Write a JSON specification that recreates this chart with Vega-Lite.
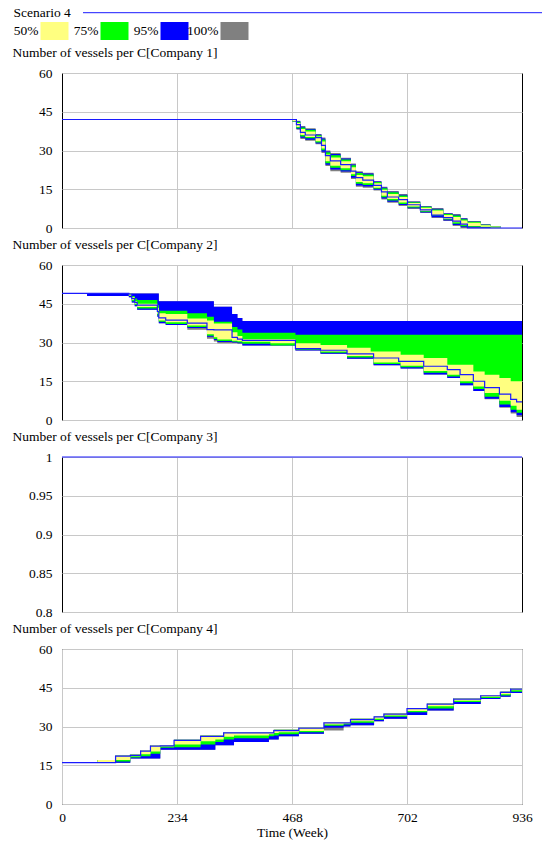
{
 "$schema": "https://vega.github.io/schema/vega-lite/v6.json",
 "padding": {"left": 12, "top": 6, "right": 0, "bottom": 0},
 "autosize": {"type": "pad"},
 "bounds": "flush",
 "spacing": 37,
 "config": {
  "font": "Liberation Serif",
  "view": {"stroke": "#000000", "strokeWidth": 1},
  "axis": {"labelFont": "Liberation Serif", "labelFontSize": 13.5, "labelColor": "#000000", "gridColor": "#c8c8c8", "gridWidth": 1, "domain": false, "ticks": false, "tickSize": 0, "titleFont": "Liberation Serif", "titleFontSize": 13.5, "titleFontWeight": "normal", "titleColor": "#000000"},
  "title": {"font": "Liberation Serif", "fontSize": 13.5, "fontWeight": "normal", "color": "#000000", "anchor": "start", "frame": "group", "dx": -49.5, "offset": 7, "baseline": "alphabetic"},
  "legend": {"labelFont": "Liberation Serif", "labelFontSize": 13.5, "labelColor": "#000000", "titleFont": "Liberation Serif", "titleFontSize": 13.5, "titleFontWeight": "normal", "titleColor": "#000000", "padding": 0}
 },
 "resolve": {"scale": {"x": "independent", "y": "independent", "fill": "shared", "stroke": "shared"}, "legend": {"stroke": "shared"}},
 "datasets": {
  "p1": [
   {"t":0,"lo100":42,"lo95":42,"lo75":42,"lo50":42,"hi50":42,"hi75":42,"hi95":42,"hi100":42,"base":42},
   {"t":469,"lo100":41,"lo95":41.1,"lo75":41.2,"lo50":41.3,"hi50":41.8,"hi75":41.9,"hi95":42,"hi100":42,"base":42},
   {"t":477,"lo100":38,"lo95":38.3,"lo75":38.6,"lo50":39.1,"hi50":40.6,"hi75":41.1,"hi95":41.3,"hi100":41.5,"base":40},
   {"t":485,"lo100":34.5,"lo95":34.9,"lo75":35.4,"lo50":36,"hi50":38.3,"hi75":38.9,"hi95":39.2,"hi100":39.5,"base":37},
   {"t":495,"lo100":33.8,"lo95":34.2,"lo75":34.7,"lo50":35.2,"hi50":37.4,"hi75":38,"hi95":38.3,"hi100":38.6,"base":36},
   {"t":516,"lo100":32.4,"lo95":32.7,"lo75":33.1,"lo50":33.6,"hi50":35.4,"hi75":35.9,"hi95":36.2,"hi100":36.4,"base":35},
   {"t":528,"lo100":29,"lo95":29.5,"lo75":30.1,"lo50":30.8,"hi50":33.5,"hi75":34.3,"hi95":34.6,"hi100":35,"base":32},
   {"t":536,"lo100":24,"lo95":24.5,"lo75":25.1,"lo50":25.8,"hi50":28.5,"hi75":29.3,"hi95":29.6,"hi100":30,"base":28},
   {"t":546,"lo100":22,"lo95":22.6,"lo75":23.3,"lo50":24.1,"hi50":27.3,"hi75":28.2,"hi95":28.6,"hi100":29,"base":26},
   {"t":567,"lo100":21.4,"lo95":21.9,"lo75":22.4,"lo50":23.1,"hi50":25.8,"hi75":26.5,"hi95":26.9,"hi100":27.2,"base":24.5},
   {"t":588,"lo100":19,"lo95":19.5,"lo75":20.1,"lo50":20.8,"hi50":23.5,"hi75":24.3,"hi95":24.6,"hi100":25,"base":22},
   {"t":598,"lo100":16,"lo95":16.5,"lo75":17.1,"lo50":17.8,"hi50":20.5,"hi75":21.3,"hi95":21.6,"hi100":22,"base":19.5},
   {"t":612,"lo100":15.6,"lo95":16.1,"lo75":16.6,"lo50":17.3,"hi50":20,"hi75":20.7,"hi95":21.1,"hi100":21.4,"base":18.5},
   {"t":634,"lo100":14.5,"lo95":14.8,"lo75":15.2,"lo50":15.6,"hi50":17.3,"hi75":17.8,"hi95":18,"hi100":18.2,"base":16.5},
   {"t":650,"lo100":11,"lo95":11.4,"lo75":11.9,"lo50":12.5,"hi50":14.8,"hi75":15.4,"hi95":15.7,"hi100":16,"base":14},
   {"t":662,"lo100":9.8,"lo95":10.2,"lo75":10.6,"lo50":11.2,"hi50":13.2,"hi75":13.8,"hi95":14,"hi100":14.3,"base":12},
   {"t":685,"lo100":8.5,"lo95":8.9,"lo75":9.3,"lo50":9.9,"hi50":12,"hi75":12.6,"hi95":12.9,"hi100":13.2,"base":11},
   {"t":703,"lo100":7.4,"lo95":7.6,"lo75":7.9,"lo50":8.3,"hi50":9.7,"hi75":10,"hi95":10.2,"hi100":10.4,"base":9},
   {"t":729,"lo100":5.8,"lo95":6,"lo75":6.3,"lo50":6.6,"hi50":7.8,"hi75":8.2,"hi95":8.3,"hi100":8.5,"base":7},
   {"t":752,"lo100":3.9,"lo95":4.2,"lo75":4.6,"lo50":5,"hi50":6.8,"hi75":7.2,"hi95":7.5,"hi100":7.7,"base":5},
   {"t":776,"lo100":2.7,"lo95":2.9,"lo75":3.3,"lo50":3.6,"hi50":5,"hi75":5.4,"hi95":5.6,"hi100":5.8,"base":4},
   {"t":795,"lo100":0.8,"lo95":1.2,"lo75":1.6,"lo50":2.2,"hi50":4.3,"hi75":4.8,"hi95":5.1,"hi100":5.4,"base":2.7},
   {"t":811,"lo100":0,"lo95":0.3,"lo75":0.7,"lo50":1.2,"hi50":2.9,"hi75":3.4,"hi95":3.7,"hi100":3.9,"base":1.5},
   {"t":825,"lo100":0,"lo95":0.2,"lo75":0.5,"lo50":0.8,"hi50":2,"hi75":2.4,"hi95":2.5,"hi100":2.7,"base":0},
   {"t":852,"lo100":0,"lo95":0.1,"lo75":0.3,"lo50":0.5,"hi50":1.1,"hi75":1.3,"hi95":1.4,"hi100":1.5,"base":0},
   {"t":872,"lo100":0,"lo95":0,"lo75":0.1,"lo50":0.2,"hi50":0.6,"hi75":0.7,"hi95":0.8,"hi100":0.8,"base":0},
   {"t":892,"lo100":0,"lo95":0,"lo75":0,"lo50":0,"hi50":0,"hi75":0,"hi95":0,"hi100":0,"base":0},
   {"t":936,"lo100":0,"lo95":0,"lo75":0,"lo50":0,"hi50":0,"hi75":0,"hi95":0,"hi100":0,"base":0}
  ],
  "p2": [
   {"t":0,"lo100":49,"lo95":49,"lo75":49,"lo50":49,"hi50":49,"hi75":49,"hi95":49,"hi100":49,"base":49},
   {"t":51,"lo100":48,"lo95":48,"lo75":49,"lo50":49,"hi50":49,"hi75":49,"hi95":49,"hi100":49,"base":49},
   {"t":136,"lo100":47.5,"lo95":47.5,"lo75":48,"lo50":48.2,"hi50":49,"hi75":49,"hi95":49,"hi100":49,"base":48.7},
   {"t":142,"lo100":45.5,"lo95":45.5,"lo75":46,"lo50":46.5,"hi50":47.5,"hi75":48,"hi95":49,"hi100":49,"base":47},
   {"t":148,"lo100":44,"lo95":44,"lo75":44.5,"lo50":45,"hi50":46,"hi75":47,"hi95":49,"hi100":49,"base":45.5},
   {"t":153,"lo100":42.7,"lo95":42.7,"lo75":43.2,"lo50":43.7,"hi50":45,"hi75":46.5,"hi95":49,"hi100":49,"base":44.5},
   {"t":194,"lo100":40,"lo95":40,"lo75":40.5,"lo50":41,"hi50":43.5,"hi75":44.5,"hi95":49,"hi100":49,"base":42},
   {"t":197,"lo100":37.5,"lo95":37.5,"lo75":38,"lo50":38.5,"hi50":41.3,"hi75":42.3,"hi95":46,"hi100":46,"base":39.5},
   {"t":211,"lo100":36.8,"lo95":36.8,"lo75":37.2,"lo50":37.8,"hi50":41,"hi75":42.3,"hi95":46,"hi100":46,"base":38.7},
   {"t":255,"lo100":34.9,"lo95":35.6,"lo75":36,"lo50":36.6,"hi50":39.3,"hi75":41.3,"hi95":46,"hi100":46,"base":37.5},
   {"t":295,"lo100":31.5,"lo95":32.2,"lo75":32.6,"lo50":33.2,"hi50":38.5,"hi75":40,"hi95":46,"hi100":46,"base":35},
   {"t":309,"lo100":30.4,"lo95":31,"lo75":31.4,"lo50":32,"hi50":37.4,"hi75":38,"hi95":43.8,"hi100":43.8,"base":34.9},
   {"t":316,"lo100":29.7,"lo95":30.2,"lo75":30.6,"lo50":31.2,"hi50":37.4,"hi75":38,"hi95":43.8,"hi100":43.8,"base":34.9},
   {"t":346,"lo100":29.7,"lo95":30,"lo75":30.3,"lo50":30.7,"hi50":34,"hi75":36,"hi95":41,"hi100":41,"base":32},
   {"t":357,"lo100":29.5,"lo95":29.7,"lo75":30,"lo50":30.5,"hi50":32.5,"hi75":35,"hi95":39.5,"hi100":39.5,"base":31.3},
   {"t":367,"lo100":28.8,"lo95":28.8,"lo75":29.5,"lo50":30.3,"hi50":31.3,"hi75":33.8,"hi95":38.3,"hi100":38.3,"base":30.8},
   {"t":424,"lo100":28.8,"lo95":28.8,"lo75":28.8,"lo50":29.7,"hi50":31.3,"hi75":33.8,"hi95":38.3,"hi100":38.3,"base":30.8},
   {"t":475,"lo100":26.9,"lo95":26.9,"lo75":27.2,"lo50":27.8,"hi50":29.7,"hi75":33,"hi95":38.3,"hi100":38.3,"base":27.6},
   {"t":526,"lo100":25.6,"lo95":25.6,"lo75":26,"lo50":26.5,"hi50":29,"hi75":33,"hi95":38.3,"hi100":38.3,"base":27},
   {"t":580,"lo100":23.7,"lo95":23.7,"lo75":24.2,"lo50":24.8,"hi50":28,"hi75":33,"hi95":38.3,"hi100":38.3,"base":25.6},
   {"t":628,"lo100":23.7,"lo95":23.7,"lo75":24.2,"lo50":24.8,"hi50":26.5,"hi75":33,"hi95":38.3,"hi100":38.3,"base":25.6},
   {"t":634,"lo100":21.2,"lo95":21.2,"lo75":21.7,"lo50":22.3,"hi50":26.5,"hi75":33,"hi95":38.3,"hi100":38.3,"base":24},
   {"t":685,"lo100":21.2,"lo95":21.2,"lo75":21.7,"lo50":22.3,"hi50":26.5,"hi75":33,"hi95":38.3,"hi100":38.3,"base":22.7},
   {"t":689,"lo100":19.9,"lo95":19.9,"lo75":20.4,"lo50":21,"hi50":25.3,"hi75":33,"hi95":38.3,"hi100":38.3,"base":22.7},
   {"t":736,"lo100":17.6,"lo95":17.6,"lo75":18.3,"lo50":19,"hi50":24,"hi75":33,"hi95":38.3,"hi100":38.3,"base":20.8},
   {"t":784,"lo100":16.3,"lo95":16.3,"lo75":16.8,"lo50":17.5,"hi50":21.4,"hi75":33,"hi95":38.3,"hi100":38.3,"base":19.5},
   {"t":810,"lo100":13.5,"lo95":13.5,"lo75":14.2,"lo50":15,"hi50":21.4,"hi75":33,"hi95":38.3,"hi100":38.3,"base":17.6},
   {"t":837,"lo100":11.2,"lo95":11.2,"lo75":12,"lo50":13,"hi50":18.8,"hi75":33,"hi95":38.3,"hi100":38.3,"base":15},
   {"t":860,"lo100":8,"lo95":8.2,"lo75":9,"lo50":10.5,"hi50":17.5,"hi75":33,"hi95":38.3,"hi100":38.3,"base":12.5},
   {"t":890,"lo100":4.7,"lo95":5,"lo75":6,"lo50":7.5,"hi50":16.3,"hi75":33,"hi95":38.3,"hi100":38.3,"base":10},
   {"t":913,"lo100":2.5,"lo95":3,"lo75":4,"lo50":5.5,"hi50":15,"hi75":33,"hi95":38.3,"hi100":38.3,"base":8},
   {"t":925,"lo100":1.2,"lo95":1.8,"lo75":2.8,"lo50":4,"hi50":15,"hi75":33,"hi95":38.3,"hi100":38.3,"base":7},
   {"t":936,"lo100":1.2,"lo95":1.8,"lo75":2.8,"lo50":4,"hi50":15,"hi75":33,"hi95":38.3,"hi100":38.3,"base":7}
  ],
  "p3": [
   {"t":0,"base":1},
   {"t":936,"base":1}
  ],
  "p4": [
   {"t":0,"lo100":16,"lo95":16,"lo75":16,"lo50":16,"hi50":16,"hi75":16,"hi95":16,"hi100":16,"base":16},
   {"t":72,"lo100":16,"lo95":16,"lo75":16,"lo50":16,"hi50":17,"hi75":17,"hi95":17,"hi100":17,"base":16},
   {"t":109,"lo100":16,"lo95":16,"lo75":16.5,"lo50":17,"hi50":18.8,"hi75":18.8,"hi95":18.8,"hi100":18.8,"base":18.5},
   {"t":139,"lo100":17.6,"lo95":17.6,"lo75":18,"lo50":18.5,"hi50":19.2,"hi75":19.2,"hi95":19.2,"hi100":19.2,"base":18.8},
   {"t":160,"lo100":17.6,"lo95":17.6,"lo75":18.5,"lo50":19.3,"hi50":20.8,"hi75":20.8,"hi95":20.8,"hi100":20.8,"base":20.5},
   {"t":180,"lo100":17.6,"lo95":17.6,"lo75":19.5,"lo50":20.3,"hi50":22.7,"hi75":22.7,"hi95":22.7,"hi100":22.7,"base":22.4},
   {"t":200,"lo100":21,"lo95":21,"lo75":21.8,"lo50":22.3,"hi50":22.7,"hi75":22.7,"hi95":22.7,"hi100":22.7,"base":22.5},
   {"t":228,"lo100":21,"lo95":21,"lo75":22,"lo50":23,"hi50":24.9,"hi75":24.9,"hi95":24.9,"hi100":24.9,"base":24.6},
   {"t":282,"lo100":21,"lo95":21,"lo75":23,"lo50":24.3,"hi50":26.5,"hi75":26.5,"hi95":26.5,"hi100":26.5,"base":26.2},
   {"t":312,"lo100":22.7,"lo95":22.7,"lo75":24,"lo50":25,"hi50":26.5,"hi75":26.5,"hi95":26.5,"hi100":26.5,"base":26.2},
   {"t":329,"lo100":22.7,"lo95":22.7,"lo75":25,"lo50":26,"hi50":27.8,"hi75":27.8,"hi95":27.8,"hi100":27.8,"base":27.5},
   {"t":350,"lo100":24,"lo95":24,"lo75":25.5,"lo50":26.5,"hi50":27.8,"hi75":27.8,"hi95":27.8,"hi100":27.8,"base":27.5},
   {"t":421,"lo100":25,"lo95":25,"lo75":26.2,"lo50":27,"hi50":27.8,"hi75":27.8,"hi95":27.8,"hi100":27.8,"base":27.5},
   {"t":431,"lo100":25,"lo95":25,"lo75":26.5,"lo50":27.5,"hi50":28.7,"hi75":28.7,"hi95":28.7,"hi100":28.7,"base":28.4},
   {"t":441,"lo100":26.2,"lo95":26.2,"lo75":27,"lo50":27.8,"hi50":28.7,"hi75":28.7,"hi95":28.7,"hi100":28.7,"base":28.4},
   {"t":482,"lo100":27.2,"lo95":27.2,"lo75":27.8,"lo50":28.3,"hi50":29.7,"hi75":29.7,"hi95":29.7,"hi100":29.7,"base":29.4},
   {"t":533,"lo100":28.5,"lo95":29.5,"lo75":30.3,"lo50":30.8,"hi50":31.7,"hi75":31.7,"hi95":31.7,"hi100":31.7,"base":31.4},
   {"t":573,"lo100":30,"lo95":30,"lo75":30.8,"lo50":31.2,"hi50":31.7,"hi75":31.7,"hi95":31.7,"hi100":31.7,"base":31.4},
   {"t":587,"lo100":30.5,"lo95":30.5,"lo75":31.5,"lo50":32,"hi50":33,"hi75":33,"hi95":33,"hi100":33,"base":32.7},
   {"t":635,"lo100":32,"lo95":32,"lo75":32.5,"lo50":33,"hi50":34,"hi75":34,"hi95":34,"hi100":34,"base":33.7},
   {"t":655,"lo100":33,"lo95":33,"lo75":33.8,"lo50":34.3,"hi50":35.1,"hi75":35.1,"hi95":35.1,"hi100":35.1,"base":34.8},
   {"t":702,"lo100":34.5,"lo95":34.5,"lo75":35.5,"lo50":36,"hi50":37.2,"hi75":37.2,"hi95":37.2,"hi100":37.2,"base":36.9},
   {"t":743,"lo100":36.2,"lo95":36.2,"lo75":37,"lo50":37.8,"hi50":39,"hi75":39,"hi95":39,"hi100":39,"base":38.7},
   {"t":797,"lo100":38.7,"lo95":38.7,"lo75":39.5,"lo50":40,"hi50":40.9,"hi75":40.9,"hi95":40.9,"hi100":40.9,"base":40.6},
   {"t":852,"lo100":40.6,"lo95":40.6,"lo75":41,"lo50":41.5,"hi50":42.2,"hi75":42.2,"hi95":42.2,"hi100":42.2,"base":41.9},
   {"t":892,"lo100":41.5,"lo95":41.5,"lo75":42,"lo50":42.5,"hi50":43.5,"hi75":43.5,"hi95":43.5,"hi100":43.5,"base":43.2},
   {"t":913,"lo100":43,"lo95":43,"lo75":43.5,"lo50":44,"hi50":44.8,"hi75":44.8,"hi95":44.8,"hi100":44.8,"base":44.5},
   {"t":936,"lo100":43,"lo95":43,"lo75":43.5,"lo50":44,"hi50":44.8,"hi75":44.8,"hi95":44.8,"hi100":44.8,"base":44.5}
  ],
  "legendItems": [
   {"band": "50%"},
   {"band": "75%"},
   {"band": "95%"},
   {"band": "100%"}
  ]
 },
 "vconcat": [
  {
   "width": 240, "height": 18,
   "view": {"stroke": null},
   "data": {"name": "legendItems"},
   "encoding": {
    "x": {"field": "band", "type": "nominal", "sort": ["50%", "75%", "95%", "100%"], "scale": {"range": [-51.5, 188.5], "paddingInner": 0, "paddingOuter": 0}, "axis": null},
    "y": {"datum": "legend", "type": "nominal", "scale": {"range": [4, 22], "paddingInner": 0, "paddingOuter": 0}, "axis": null}
   },
   "layer": [
    {"mark": {"type": "rect", "width": 28, "xOffset": 14},
     "encoding": {"fill": {"field": "band", "type": "nominal", "scale": {"domain": ["50%", "75%", "95%", "100%"], "range": ["#ffff80", "#00ff00", "#0000ff", "#808080"]}, "legend": null}}},
    {"mark": {"type": "text", "align": "right", "dx": -2, "baseline": "middle", "fontSize": 13.5, "font": "Liberation Serif", "color": "#000000"},
     "encoding": {"text": {"field": "band"}}},
    {"mark": {"type": "text", "opacity": 0},
     "encoding": {"text": {"field": "band"},
      "stroke": {"datum": "Scenario 4", "type": "nominal", "scale": {"range": ["#1a1aff"]},
       "legend": {"orient": "none", "legendX": -48.5, "legendY": -11.3, "title": "Scenario 4", "titleOrient": "left", "titlePadding": 11, "symbolType": "stroke", "symbolSize": 212521, "symbolStrokeWidth": 1, "symbolOpacity": 1, "clipHeight": 12, "labelExpr": "''"}}}}
   ]
  },
  {
   "width": 460, "height": 155,
   "title": "Number of vessels per C[Company 1]",
   "data": {"name": "p1"},
   "encoding": {
    "x": {"field": "t", "type": "quantitative", "scale": {"domain": [0, 936], "nice": false}, "axis": {"values": [234, 468, 702], "labels": false, "title": null}}
   },
   "layer": [
    {"mark": {"type": "area", "interpolate": "step-after", "opacity": 1},
     "encoding": {"y": {"field": "lo100", "type": "quantitative", "scale": {"domain": [0, 60], "nice": false}, "axis": {"values": [0, 15, 30, 45, 60], "title": null, "labelPadding": 10, "format": "d"}}, "y2": {"field": "hi100"}, "fill": {"datum": "100%", "type": "nominal", "legend": null}}},
    {"mark": {"type": "area", "interpolate": "step-after", "opacity": 1},
     "encoding": {"y": {"field": "lo95", "type": "quantitative", "scale": {"domain": [0, 60], "nice": false}, "axis": {"values": [0, 15, 30, 45, 60], "title": null, "labelPadding": 10, "format": "d"}}, "y2": {"field": "hi95"}, "fill": {"datum": "95%", "type": "nominal", "legend": null}}},
    {"mark": {"type": "area", "interpolate": "step-after", "opacity": 1},
     "encoding": {"y": {"field": "lo75", "type": "quantitative", "scale": {"domain": [0, 60], "nice": false}, "axis": {"values": [0, 15, 30, 45, 60], "title": null, "labelPadding": 10, "format": "d"}}, "y2": {"field": "hi75"}, "fill": {"datum": "75%", "type": "nominal", "legend": null}}},
    {"mark": {"type": "area", "interpolate": "step-after", "opacity": 1},
     "encoding": {"y": {"field": "lo50", "type": "quantitative", "scale": {"domain": [0, 60], "nice": false}, "axis": {"values": [0, 15, 30, 45, 60], "title": null, "labelPadding": 10, "format": "d"}}, "y2": {"field": "hi50"}, "fill": {"datum": "50%", "type": "nominal", "legend": null}}},
    {"mark": {"type": "line", "interpolate": "step-after", "strokeWidth": 1.2},
     "encoding": {"y": {"field": "base", "type": "quantitative", "scale": {"domain": [0, 60], "nice": false}, "axis": {"values": [0, 15, 30, 45, 60], "title": null, "labelPadding": 10, "format": "d"}}, "stroke": {"datum": "Scenario 4", "type": "nominal"}}}
   ]
  },
  {
   "width": 460, "height": 155,
   "title": "Number of vessels per C[Company 2]",
   "data": {"name": "p2"},
   "encoding": {
    "x": {"field": "t", "type": "quantitative", "scale": {"domain": [0, 936], "nice": false}, "axis": {"values": [234, 468, 702], "labels": false, "title": null}}
   },
   "layer": [
    {"mark": {"type": "area", "interpolate": "step-after", "opacity": 1},
     "encoding": {"y": {"field": "lo100", "type": "quantitative", "scale": {"domain": [0, 60], "nice": false}, "axis": {"values": [0, 15, 30, 45, 60], "title": null, "labelPadding": 10, "format": "d"}}, "y2": {"field": "hi100"}, "fill": {"datum": "100%", "type": "nominal", "legend": null}}},
    {"mark": {"type": "area", "interpolate": "step-after", "opacity": 1},
     "encoding": {"y": {"field": "lo95", "type": "quantitative", "scale": {"domain": [0, 60], "nice": false}, "axis": {"values": [0, 15, 30, 45, 60], "title": null, "labelPadding": 10, "format": "d"}}, "y2": {"field": "hi95"}, "fill": {"datum": "95%", "type": "nominal", "legend": null}}},
    {"mark": {"type": "area", "interpolate": "step-after", "opacity": 1},
     "encoding": {"y": {"field": "lo75", "type": "quantitative", "scale": {"domain": [0, 60], "nice": false}, "axis": {"values": [0, 15, 30, 45, 60], "title": null, "labelPadding": 10, "format": "d"}}, "y2": {"field": "hi75"}, "fill": {"datum": "75%", "type": "nominal", "legend": null}}},
    {"mark": {"type": "area", "interpolate": "step-after", "opacity": 1},
     "encoding": {"y": {"field": "lo50", "type": "quantitative", "scale": {"domain": [0, 60], "nice": false}, "axis": {"values": [0, 15, 30, 45, 60], "title": null, "labelPadding": 10, "format": "d"}}, "y2": {"field": "hi50"}, "fill": {"datum": "50%", "type": "nominal", "legend": null}}},
    {"mark": {"type": "line", "interpolate": "step-after", "strokeWidth": 1.2},
     "encoding": {"y": {"field": "base", "type": "quantitative", "scale": {"domain": [0, 60], "nice": false}, "axis": {"values": [0, 15, 30, 45, 60], "title": null, "labelPadding": 10, "format": "d"}}, "stroke": {"datum": "Scenario 4", "type": "nominal"}}}
   ]
  },
  {
   "width": 460, "height": 155,
   "title": "Number of vessels per C[Company 3]",
   "data": {"name": "p3"},
   "encoding": {
    "x": {"field": "t", "type": "quantitative", "scale": {"domain": [0, 936], "nice": false}, "axis": {"values": [234, 468, 702], "labels": false, "title": null}}
   },
   "layer": [
    {"mark": {"type": "line", "interpolate": "step-after", "strokeWidth": 1.2},
     "encoding": {"y": {"field": "base", "type": "quantitative", "scale": {"domain": [0.8, 1], "nice": false, "zero": false}, "axis": {"values": [0.8, 0.85, 0.9, 0.95, 1], "title": null, "labelPadding": 10, "format": "~r"}}, "stroke": {"datum": "Scenario 4", "type": "nominal"}}}
   ]
  },
  {
   "width": 460, "height": 155,
   "title": "Number of vessels per C[Company 4]",
   "data": {"name": "p4"},
   "encoding": {
    "x": {"field": "t", "type": "quantitative", "scale": {"domain": [0, 936], "nice": false}, "axis": {"values": [0, 234, 468, 702, 936], "title": "Time (Week)", "labelPadding": 6, "titlePadding": 2, "format": "d", "labelFlush": false, "labelOverlap": false}}
   },
   "layer": [
    {"mark": {"type": "area", "interpolate": "step-after", "opacity": 1},
     "encoding": {"y": {"field": "lo100", "type": "quantitative", "scale": {"domain": [0, 60], "nice": false}, "axis": {"values": [0, 15, 30, 45, 60], "title": null, "labelPadding": 10, "format": "d"}}, "y2": {"field": "hi100"}, "fill": {"datum": "100%", "type": "nominal", "legend": null}}},
    {"mark": {"type": "area", "interpolate": "step-after", "opacity": 1},
     "encoding": {"y": {"field": "lo95", "type": "quantitative", "scale": {"domain": [0, 60], "nice": false}, "axis": {"values": [0, 15, 30, 45, 60], "title": null, "labelPadding": 10, "format": "d"}}, "y2": {"field": "hi95"}, "fill": {"datum": "95%", "type": "nominal", "legend": null}}},
    {"mark": {"type": "area", "interpolate": "step-after", "opacity": 1},
     "encoding": {"y": {"field": "lo75", "type": "quantitative", "scale": {"domain": [0, 60], "nice": false}, "axis": {"values": [0, 15, 30, 45, 60], "title": null, "labelPadding": 10, "format": "d"}}, "y2": {"field": "hi75"}, "fill": {"datum": "75%", "type": "nominal", "legend": null}}},
    {"mark": {"type": "area", "interpolate": "step-after", "opacity": 1},
     "encoding": {"y": {"field": "lo50", "type": "quantitative", "scale": {"domain": [0, 60], "nice": false}, "axis": {"values": [0, 15, 30, 45, 60], "title": null, "labelPadding": 10, "format": "d"}}, "y2": {"field": "hi50"}, "fill": {"datum": "50%", "type": "nominal", "legend": null}}},
    {"mark": {"type": "line", "interpolate": "step-after", "strokeWidth": 1.2},
     "encoding": {"y": {"field": "base", "type": "quantitative", "scale": {"domain": [0, 60], "nice": false}, "axis": {"values": [0, 15, 30, 45, 60], "title": null, "labelPadding": 10, "format": "d"}}, "stroke": {"datum": "Scenario 4", "type": "nominal"}}}
   ]
  }
 ]
}
